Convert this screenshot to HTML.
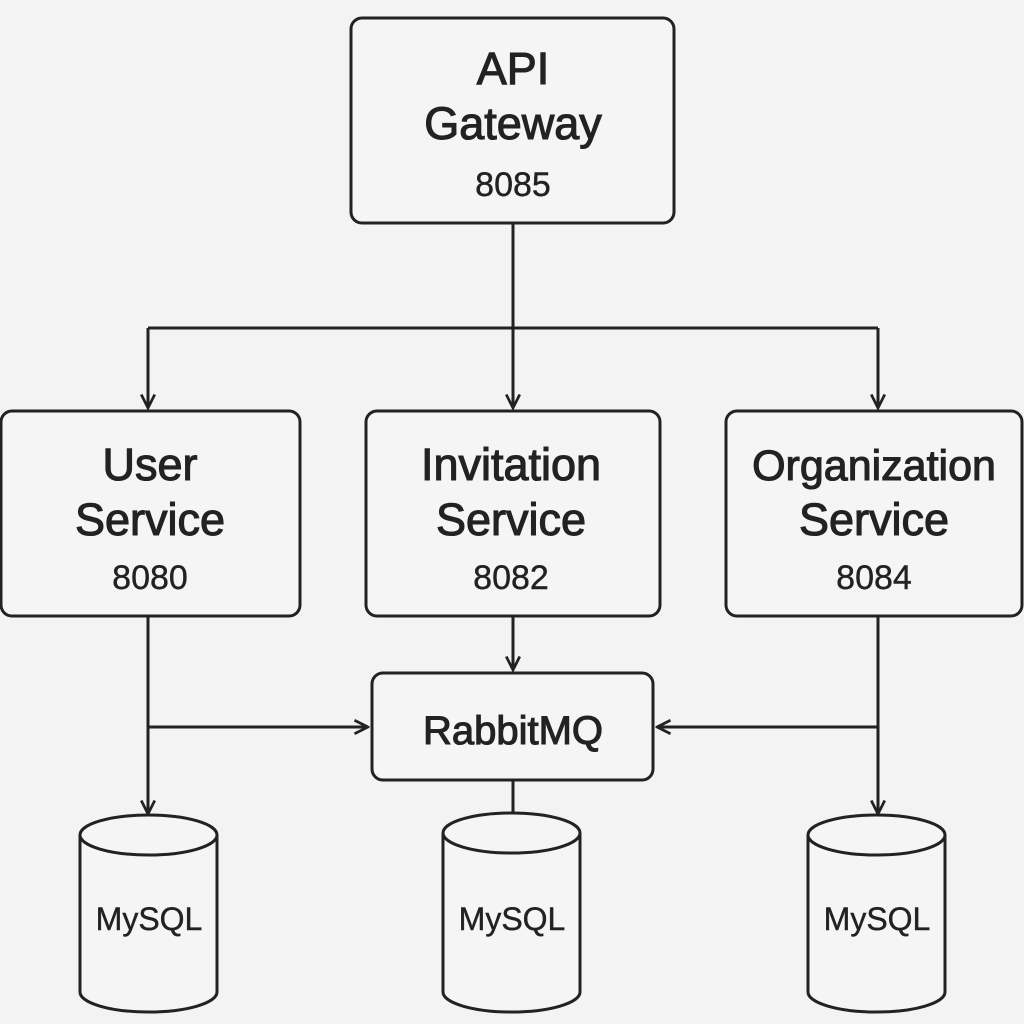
<!DOCTYPE html>
<html><head><style>
html,body{margin:0;padding:0;background:#f3f3f3;}
svg{display:block}
text{font-family:"Liberation Sans","DejaVu Sans",sans-serif;fill:#222;text-anchor:middle}
.t{font-size:45px;stroke:#222;stroke-width:1.1px}
.p{font-size:34px;stroke:#222;stroke-width:0.4px}
.m{font-size:32px;stroke:#222;stroke-width:0.4px}
</style></head><body>
<svg width="1024" height="1024" viewBox="0 0 1024 1024" xmlns="http://www.w3.org/2000/svg">
<defs>
<marker id="a" viewBox="0 0 12 12" refX="11" refY="6" markerWidth="18" markerHeight="18" markerUnits="userSpaceOnUse" orient="auto">
<path d="M2,1.5 L11,6 L2,10.5" fill="none" stroke="#222" stroke-width="1.8"/>
</marker>
</defs>
<g fill="none" stroke="#222" stroke-width="3">
<rect x="351" y="18" width="323" height="205" rx="11" fill="#f5f5f5"/>
<rect x="1" y="411" width="299" height="205" rx="11" fill="#f5f5f5"/>
<rect x="366" y="411" width="294" height="205" rx="11" fill="#f5f5f5"/>
<rect x="726" y="411" width="296" height="205" rx="11" fill="#f5f5f5"/>
<rect x="372" y="673" width="281" height="107" rx="11" fill="#f5f5f5"/>
<path d="M513,223 V328 M148,328 H878"/>
<path d="M148,328 V408" marker-end="url(#a)"/>
<path d="M513,328 V408" marker-end="url(#a)"/>
<path d="M878,328 V408" marker-end="url(#a)"/>
<path d="M513,616 V670" marker-end="url(#a)"/>
<path d="M148,616 V814" marker-end="url(#a)"/>
<path d="M148,727 H368" marker-end="url(#a)"/>
<path d="M878,616 V814" marker-end="url(#a)"/>
<path d="M878,727 H657" marker-end="url(#a)"/>
<path d="M513,780 V812"/>
<g fill="#f5f5f5">
<path d="M80,835 V992 A68.5,20 0 0 0 217,992 V835"/>
<ellipse cx="148.5" cy="835" rx="68.5" ry="20"/>
<path d="M443,833 V992 A68.5,20 0 0 0 580,992 V833"/>
<ellipse cx="511.5" cy="833" rx="68.5" ry="20"/>
<path d="M808,835 V992 A68.5,20 0 0 0 945,992 V835"/>
<ellipse cx="876.5" cy="835" rx="68.5" ry="20"/>
</g>
</g>
<text class="t" x="513" y="84">API</text>
<text class="t" x="513" y="139">Gateway</text>
<text class="p" x="513" y="196">8085</text>
<text class="t" x="150" y="480">User</text>
<text class="t" x="150" y="535">Service</text>
<text class="p" x="150" y="589">8080</text>
<text class="t" x="511" y="480">Invitation</text>
<text class="t" x="511" y="535">Service</text>
<text class="p" x="511" y="589">8082</text>
<text class="t" x="874" y="480" style="font-size:43px">Organization</text>
<text class="t" x="874" y="535">Service</text>
<text class="p" x="874" y="589">8084</text>
<text class="t" x="513" y="744" style="font-size:40px">RabbitMQ</text>
<text class="m" x="149" y="930">MySQL</text>
<text class="m" x="512" y="930">MySQL</text>
<text class="m" x="877" y="930">MySQL</text>
</svg>
</body></html>
